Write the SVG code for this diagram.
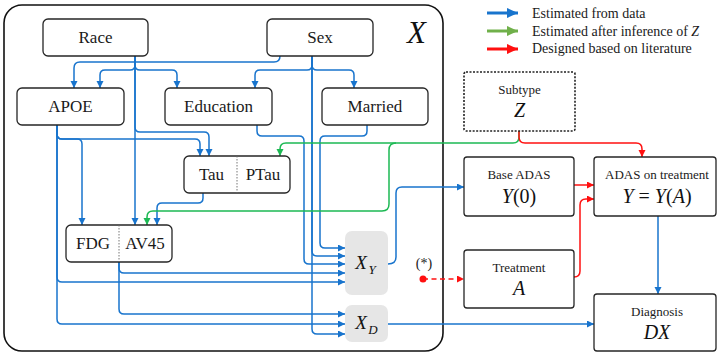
<svg xmlns="http://www.w3.org/2000/svg" width="718" height="354" viewBox="0 0 718 354" font-family="Liberation Serif, DejaVu Serif, serif">
<style>
.box{fill:#fff;stroke:#262626;stroke-width:1.3}
.lbl{font-size:17px;fill:#1a1a1a;text-anchor:middle}
.sm{font-size:13px;fill:#1a1a1a;text-anchor:middle}
.math{font-size:20px;fill:#111;text-anchor:middle}
.it{font-style:italic}
.leg{font-size:14px;fill:#1a1a1a}
.div{stroke:#666;stroke-width:0.9;stroke-dasharray:1.5,1.5}
.b{fill:none;stroke:#1874cd;stroke-width:1.5;marker-end:url(#ab)}
.g{fill:none;stroke:#1db954;stroke-width:1.5;marker-end:url(#ag)}
.r{fill:none;stroke:#ff1010;stroke-width:1.5;marker-end:url(#ar)}
</style>
<defs>
<marker id="ab" markerUnits="userSpaceOnUse" markerWidth="8" markerHeight="8" refX="7" refY="3.5" orient="auto"><path d="M0,0 L7,3.5 L0,7 z" fill="#1874cd"/></marker>
<marker id="ag" markerUnits="userSpaceOnUse" markerWidth="8" markerHeight="8" refX="7" refY="3.5" orient="auto"><path d="M0,0 L7,3.5 L0,7 z" fill="#1db954"/></marker>
<marker id="ar" markerUnits="userSpaceOnUse" markerWidth="8" markerHeight="8" refX="7" refY="3.5" orient="auto"><path d="M0,0 L7,3.5 L0,7 z" fill="#ff1010"/></marker>
<marker id="lb" markerUnits="userSpaceOnUse" markerWidth="12" markerHeight="12" refX="11" refY="5" orient="auto"><path d="M0,0 L11,5 L0,10 z" fill="#1874cd"/></marker>
<marker id="lg" markerUnits="userSpaceOnUse" markerWidth="12" markerHeight="12" refX="11" refY="5" orient="auto"><path d="M0,0 L11,5 L0,10 z" fill="#70b04a"/></marker>
<marker id="lr" markerUnits="userSpaceOnUse" markerWidth="12" markerHeight="12" refX="11" refY="5" orient="auto"><path d="M0,0 L11,5 L0,10 z" fill="#ff1010"/></marker>
</defs>

<g id="legend">
<line x1="487" y1="13" x2="518" y2="13" stroke="#1874cd" stroke-width="3" marker-end="url(#lb)"/>
<line x1="487" y1="31" x2="518" y2="31" stroke="#70b04a" stroke-width="3" marker-end="url(#lg)"/>
<line x1="487" y1="49" x2="518" y2="49" stroke="#ff1010" stroke-width="3" marker-end="url(#lr)"/>
<text class="leg" x="532" y="18">Estimated from data</text>
<text class="leg" x="532" y="36">Estimated after inference of <tspan class="it">Z</tspan></text>
<text class="leg" x="532" y="53">Designed based on literature</text>
</g>

<g id="X">
<rect x="4" y="5" width="439" height="346" rx="18" fill="none" stroke="#111" stroke-width="1.6"/>
<text x="407" y="43" font-size="31" font-style="italic" fill="#111">X</text>
</g>

<g id="connectors">
<path class="b" d="M280,56 Q280,62 274,62 H80 Q74,62 74,68 V88"/>
<path class="b" d="M135,56 V65 Q135,70 130,70 H105 Q100,70 100,75 V88"/>
<path class="b" d="M135,56 V65 Q135,70 140,70 H172 Q177,70 177,75 V88"/>
<path class="b" d="M135,56 V127 Q135,132 140,132 H204 Q209,132 209,137 V156"/>
<path class="b" d="M135,56 V225"/>
<path class="b" d="M57,125 V134 Q57,139 62,139 H77 Q82,139 82,144 V225"/>
<path class="b" d="M57,125 V134 Q57,139 62,139 H195 Q200,139 200,144 V156"/>
<path class="b" d="M57,125 V277 Q57,282 62,282 H345"/>
<path class="b" d="M57,125 V319 Q57,324 62,324 H345"/>
<path class="b" d="M312,56 V65 Q312,70 307,70 H260 Q255,70 255,75 V88"/>
<path class="b" d="M312,56 V65 Q312,70 317,70 H349 Q354,70 354,75 V88"/>
<path class="b" d="M312,56 V251 Q312,256 317,256 H345"/>
<path class="b" d="M312,56 V329 Q312,334 317,334 H345"/>
<path class="b" d="M257,125 V131 Q257,136 262,136 H299 Q304,136 304,141 V259 Q304,264 309,264 H345"/>
<path class="b" d="M367,125 V131 Q367,136 362,136 H325 Q320,136 320,141 V243 Q320,248 325,248 H345"/>
<path class="b" d="M203,193 V198 Q203,203 198,203 H162 Q157,203 157,208 V225"/>
<path class="b" d="M119,262 V268 Q119,273 124,273 H345"/>
<path class="b" d="M119,262 V309 Q119,314 124,314 H345"/>
<path class="b" d="M388,264 Q396,264 396,257 V193 Q396,187 402,187 H464"/>
<path class="b" d="M388,324 H594"/>
<path class="b" d="M658,216 V294"/>
<path class="g" d="M519,131 V137 Q519,143 513,143 H286 Q280,143 280,149 V156"/>
<path class="g" d="M396,143 Q389,143 389,150 V204 Q389,211 382,211 H153 Q147,211 147,217 V225"/>
<path class="r" d="M519,131 V137 Q519,143 525,143 H636 Q642,143 642,149 V157"/>
<path class="r" d="M574,185 H594"/>
<path class="r" d="M574,277 Q580,277 580,271 V205 Q580,199 586,199 H594"/>
<path class="r" d="M423,279 H464" stroke-dasharray="5,3.5"/>
<circle cx="423" cy="279" r="3.5" fill="#ff1010"/>
<text x="424" y="268" font-size="14" fill="#1a1a1a" text-anchor="middle">(*)</text>
</g>

<g id="race"><rect class="box" x="43" y="19" width="105" height="37" rx="5"/><text class="lbl" x="95.5" y="43">Race</text></g>
<g id="sex"><rect class="box" x="267" y="19" width="106" height="37" rx="5"/><text class="lbl" x="320" y="43">Sex</text></g>
<g id="apoe"><rect class="box" x="17" y="88" width="107" height="37" rx="5"/><text class="lbl" x="70.5" y="112">APOE</text></g>
<g id="education"><rect class="box" x="165" y="88" width="107" height="37" rx="5"/><text class="lbl" x="218.5" y="112">Education</text></g>
<g id="married"><rect class="box" x="322" y="88" width="106" height="37" rx="5"/><text class="lbl" x="375" y="112">Married</text></g>
<g id="tau"><rect class="box" x="184" y="156" width="106" height="37" rx="5"/><line class="div" x1="237" y1="156" x2="237" y2="193"/><text class="lbl" x="211.5" y="180">Tau</text><text class="lbl" x="263" y="180">PTau</text></g>
<g id="fdg"><rect class="box" x="66" y="225" width="106" height="37" rx="5"/><line class="div" x1="119" y1="225" x2="119" y2="262"/><text class="lbl" x="93" y="249">FDG</text><text class="lbl" x="145" y="249">AV45</text></g>
<g id="xy"><rect x="345" y="231" width="43" height="64" rx="7" fill="#e6e6e6"/><text x="361" y="269" font-size="19" font-style="italic" fill="#111" text-anchor="middle">X</text><text x="372" y="274" font-size="13" font-style="italic" fill="#111" text-anchor="middle">Y</text></g>
<g id="xd"><rect x="345" y="305" width="43" height="37" rx="7" fill="#e6e6e6"/><text x="361" y="329" font-size="19" font-style="italic" fill="#111" text-anchor="middle">X</text><text x="373" y="334" font-size="13" font-style="italic" fill="#111" text-anchor="middle">D</text></g>
<g id="subtype"><rect x="464" y="72" width="111" height="59" rx="2" fill="#fff" stroke="#222" stroke-width="1.6" stroke-dasharray="2,1.5"/><text class="sm" x="519.5" y="94">Subtype</text><text class="math it" x="519.5" y="117">Z</text></g>
<g id="baseadas"><rect class="box" x="464" y="157" width="110" height="59" rx="3"/><text class="sm" x="519" y="179">Base ADAS</text><text class="math" x="519" y="203"><tspan class="it">Y</tspan>(0)</text></g>
<g id="adastx"><rect class="box" x="594" y="157" width="122" height="59" rx="3"/><text class="sm" x="657" y="179">ADAS on treatment</text><text class="math" x="657" y="203"><tspan class="it">Y</tspan> = <tspan class="it">Y</tspan>(<tspan class="it">A</tspan>)</text></g>
<g id="treatment"><rect class="box" x="464" y="250" width="110" height="58" rx="3"/><text class="sm" x="519" y="272">Treatment</text><text class="math it" x="519" y="295">A</text></g>
<g id="diagnosis"><rect class="box" x="594" y="294" width="122" height="57" rx="3"/><text class="sm" x="657" y="316">Diagnosis</text><text class="math it" x="657" y="339">DX</text></g>
</svg>
